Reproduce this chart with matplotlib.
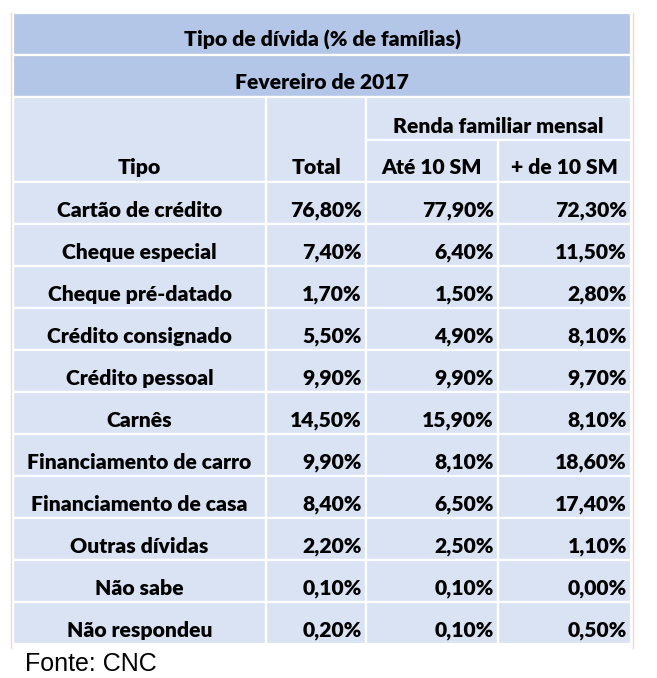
import matplotlib
matplotlib.use("Agg")
import matplotlib.pyplot as plt
from matplotlib.patches import Rectangle

# Table data (% de famílias)
tipos = ["Cartão de crédito", "Cheque especial", "Cheque pré-datado",
         "Crédito consignado", "Crédito pessoal", "Carnês",
         "Financiamento de carro", "Financiamento de casa", "Outras dívidas",
         "Não sabe", "Não respondeu"]
total = [76.8, 7.4, 1.7, 5.5, 9.9, 14.5, 9.9, 8.4, 2.2, 0.1, 0.2]
ate_10sm = [77.9, 6.4, 1.5, 4.9, 9.9, 15.9, 8.1, 6.5, 2.5, 0.1, 0.1]
mais_10sm = [72.3, 11.5, 2.8, 8.1, 9.7, 8.1, 18.6, 17.4, 1.1, 0.0, 0.5]

titulo = "Tipo de dívida (% de famílias)"
periodo = "Fevereiro de 2017"
col_headers = ["Tipo", "Total", "Até 10 SM", "+ de 10 SM"]
grupo_renda = "Renda familiar mensal"
fonte = "Fonte: CNC"

# layout (pixels)
W, H = 657, 678
col_x = [13, 266, 366, 498, 631]
row_h = 42
data_top = 182
dark = "#B4C6E7"
light = "#DAE3F3"
FONT = ["Lato", "DejaVu Sans"]
FS = 15.2


def fmt(v):
    return f"{v:.2f}".replace(".", ",") + "%"


fig = plt.figure(figsize=(W / 100, H / 100), dpi=100)
ax = fig.add_axes([0, 0, 1, 1])
ax.set_xlim(0, W)
ax.set_ylim(H, 0)
ax.axis("off")


def cell(x0, x1, y0, y1, color):
    ax.add_patch(Rectangle((x0, y0), x1 - x0, y1 - y0, facecolor=color,
                           edgecolor="white", linewidth=1.6))


def txt(x, y, s, ha="center"):
    ax.text(x, y, s, ha=ha, va="baseline", fontsize=FS, fontweight="heavy",
            family=FONT, color="black")


# faint side borders
ax.plot([11, 11], [13, 648], color="#F3D9C8", lw=1)
ax.plot([633, 633], [13, 648], color="#F3D9C8", lw=1)

# title rows
cell(col_x[0], col_x[-1], 13, 55, dark)
cell(col_x[0], col_x[-1], 55, 97, dark)
txt((col_x[0] + col_x[-1]) / 2, 47, titulo)
txt((col_x[0] + col_x[-1]) / 2, 89, periodo)

# header
cell(col_x[0], col_x[1], 97, data_top, light)
cell(col_x[1], col_x[2], 97, data_top, light)
cell(col_x[2], col_x[4], 97, 140, light)
cell(col_x[2], col_x[3], 140, data_top, light)
cell(col_x[3], col_x[4], 140, data_top, light)
txt((col_x[2] + col_x[4]) / 2, 133, grupo_renda)
for j, h in enumerate(col_headers):
    txt((col_x[j] + col_x[j + 1]) / 2, 174, h)

# body
for i, nome in enumerate(tipos):
    y0 = data_top + i * row_h
    for j in range(4):
        cell(col_x[j], col_x[j + 1], y0, y0 + row_h, light)
    base = y0 + 35
    txt((col_x[0] + col_x[1]) / 2, base, nome)
    for j, vals in enumerate([total, ate_10sm, mais_10sm], start=1):
        txt(col_x[j + 1] - 4, base, fmt(vals[i]), ha="right")

ax.text(25, 671, fonte, ha="left", va="baseline", fontsize=18,
        family="Liberation Sans", color="black")

fig.savefig("out.png", dpi=100)
